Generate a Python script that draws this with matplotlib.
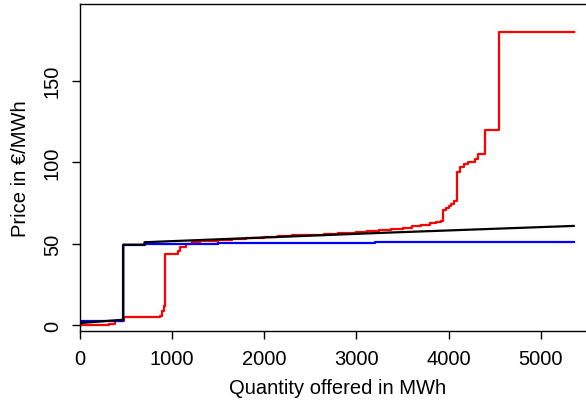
import matplotlib
matplotlib.use("Agg")
import matplotlib.pyplot as plt

plt.rcParams['font.family'] = ['Liberation Sans', 'DejaVu Sans']

# supply curves (MWh, EUR/MWh)
red_q = [0, 315, 380, 480, 870, 895, 910, 920, 1060, 1090, 1150, 1220,
         1300, 1400, 1500, 1650, 1800, 2000, 2150, 2300, 2500, 2650, 2800,
         3000, 3120, 3250, 3380, 3500, 3600, 3700, 3800, 3860, 3920, 3940,
         3970, 4000, 4030, 4060, 4096, 4120, 4165, 4210, 4285, 4316, 4400,
         4545, 5358]
red_p = [0, 1, 2.5, 5, 6, 9, 12, 44, 45.5, 48, 50, 51,
         51.5, 52, 52.5, 53, 53.5, 54.5, 54.8, 55.2, 55.5, 56, 56.4,
         57, 57.6, 58.5, 59.2, 60, 60.8, 61.5, 63, 63.5, 64, 70.5,
         72, 73, 74.5, 76, 94, 97, 99, 100, 102, 105, 120,
         180, 180]

blue_q = [0, 470, 700, 1500, 2500, 3200, 5358]
blue_p = [3, 49, 50, 50.3, 50.6, 51, 51]

black_q = [0, 0, 470, 470, 700, 700, 3250, 5358]
black_p = [0, 1.5, 3.5, 49.5, 49.5, 51, 56.7, 61]

xticks = [0, 1000, 2000, 3000, 4000, 5000]
yticks = [0, 50, 100, 150]

fig = plt.figure(figsize=(5.86, 4.02), dpi=100)
ax = fig.add_axes([80 / 586, 70 / 402, 516 / 586, 327 / 402])

ax.step(red_q, red_p, where='post', color='red', lw=1.6)
ax.step(blue_q, blue_p, where='post', color='blue', lw=1.6)
ax.plot(black_q, black_p, color='black', lw=1.6)

ax.set_xlim(0, 5600)
ax.set_ylim(-3.4, 197)
ax.set_xticks(xticks)
ax.set_yticks(yticks)
ax.set_yticklabels([str(v) for v in yticks], rotation=90, va='center')
ax.tick_params(direction='out', length=6, width=1, labelsize=14.5, pad=7)
for s in ax.spines.values():
    s.set_linewidth(1)
    s.set_color('black')

ax.set_xlabel('Quantity offered in MWh', fontsize=14.5, labelpad=7)
ax.set_ylabel('Price in €/MWh', fontsize=14.5, labelpad=9)

fig.savefig('out.png', dpi=100)
